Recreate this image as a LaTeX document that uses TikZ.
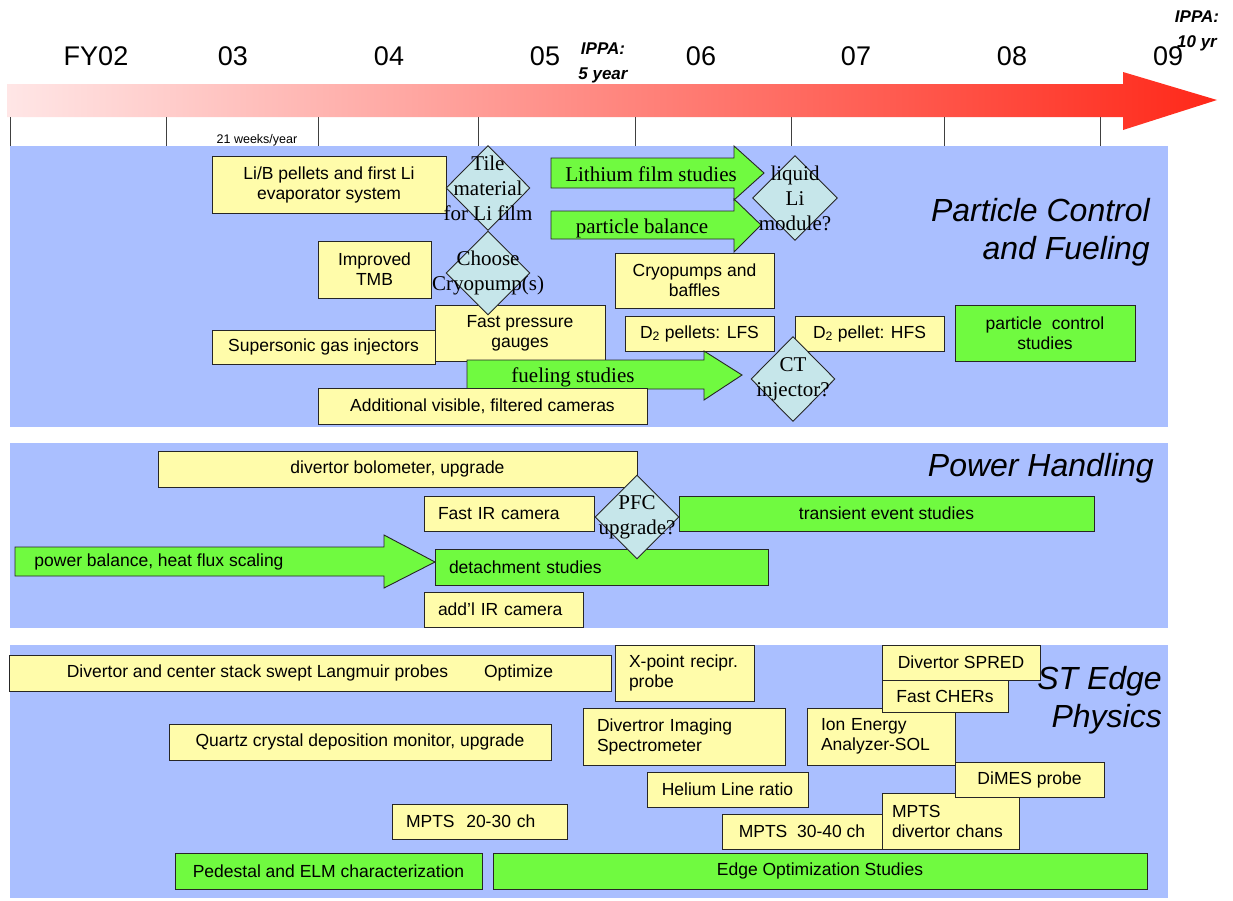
\documentclass[tikz,border=0pt]{standalone}
\usepackage{fontspec}
\setmainfont{Liberation Serif}
\setsansfont{Liberation Sans}
\usetikzlibrary{shapes.geometric}

\definecolor{secblue}{RGB}{170,191,255}
\definecolor{boxyellow}{RGB}{255,252,170}
\definecolor{boxgreen}{RGB}{112,250,64}
\definecolor{diacyan}{RGB}{198,230,234}
\definecolor{arrpale}{RGB}{255,230,230}
\definecolor{arrmid}{RGB}{255,170,168}
\definecolor{arrred}{RGB}{255,40,25}

\begin{document}
\begin{tikzpicture}[x=1pt, y=-1pt,
    sect/.style={fill=secblue},
    ybox/.style={draw=black!85, fill=boxyellow, line width=0.9pt, inner xsep=3pt, inner ysep=1pt,
        align=center, font=\sffamily\fontsize{17.5}{20}\selectfont},
    gbox/.style={ybox, fill=boxgreen},
    lbox/.style={align=left, inner xsep=14pt},
    dia/.style={diamond, draw=black!85, fill=diacyan, line width=0.9pt, inner sep=0pt},
    dtxt/.style={align=center, font=\rmfamily\fontsize{21}{25}\selectfont},
    garr/.style={draw=black!85, fill=boxgreen, line width=0.9pt},
    atxt/.style={font=\rmfamily\fontsize{21}{25}\selectfont},
    stxt/.style={font=\sffamily\fontsize{17.5}{20}\selectfont},
    year/.style={font=\sffamily\fontsize{27}{30}\selectfont},
    ippa/.style={align=center, font=\sffamily\bfseries\itshape\fontsize{17}{25}\selectfont},
    ttl/.style={anchor=east, align=right, inner sep=0pt, font=\sffamily\itshape\fontsize{32}{38}\selectfont}]
\useasboundingbox (0,0) rectangle (1233,900);

% time line
\shade[left color=arrpale, middle color=arrmid, right color=arrred]
  (7,84) -- (1123,84) -- (1123,72) -- (1217,100) -- (1123,130) -- (1123,117) -- (7,117) -- cycle;
\foreach \x in {10,166,318,478,635,791,944,1100}
  \draw[black!75, line width=0.8pt] (\x,117) -- (\x,148);
\node[year] (fy02) at (96,56)   {FY02};
\node[year] (fy03) at (233,56)  {03};
\node[year] (fy04) at (389,56)  {04};
\node[year] (fy05) at (545,56)  {05};
\node[year] (fy06) at (701,56)  {06};
\node[year] (fy07) at (856,56)  {07};
\node[year] (fy08) at (1012,56) {08};
\node[year] (fy09) at (1168,56) {09};
\node[ippa] (ippa5)  at (603,63)  {IPPA:\\5 year};
\node[ippa] (ippa10) at (1197,31) {IPPA:\\10 yr};
\node[font=\sffamily\fontsize{12.5}{14}\selectfont] (wks) at (257,140) {21 weeks/year};

% sections
\fill[sect] (10,146) rectangle (1168,427);
\fill[sect] (10,443) rectangle (1168,628);
\fill[sect] (10,645) rectangle (1168,898);

% particle control and fueling
\node[ybox, minimum width=234, minimum height=57] (lib) at (329,184.5) {Li/B pellets and first Li\\evaporator system};
\node[ybox, minimum width=113, minimum height=57] (tmb) at (374.5,269.5) {Improved\\TMB};
\node[ybox, minimum width=223, minimum height=34] (sgi) at (323.5,347) {Supersonic gas injectors};
\node[ybox, minimum width=170, minimum height=56] (fpg) at (520,333) {Fast pressure\\gauges};
\node[ybox, minimum width=159, minimum height=55] (cry) at (694.5,280.5) {Cryopumps and\\baffles};
\node[ybox, minimum width=149, minimum height=35] (lfs) at (699.5,333.5) {D\textsubscript{2} pellets: LFS};
\node[ybox, minimum width=149, minimum height=35] (hfs) at (869.5,333.5) {D\textsubscript{2} pellet: HFS};
\node[gbox, minimum width=180, minimum height=56] (pcs) at (1045,333) {particle\ \ control\\studies};
\draw[garr] (551,158) -- (734,158) -- (734,146) -- (764,173) -- (734,200) -- (734,188) -- (551,188) -- cycle;
\node[atxt] (lith) at (651,174) {Lithium film studies};
\draw[garr] (551,211) -- (734,211) -- (734,199) -- (761,225) -- (734,252) -- (734,239) -- (551,239) -- cycle;
\node[atxt] (pbal) at (642,228) {particle balance};
\draw[garr] (467,360) -- (704,360) -- (704,351) -- (742,375) -- (704,400) -- (704,389) -- (467,389) -- cycle;
\node[atxt] (fuel) at (573,377) {fueling studies};
\node[ybox, minimum width=329, minimum height=36] (cam) at (482.5,406) {Additional visible, filtered cameras};
\node[dia, minimum width=84, minimum height=85] (tile) at (488,188) {};
\node[dia, minimum width=84, minimum height=84] (chs)  at (488,273) {};
\node[dia, minimum width=85, minimum height=85] (liq)  at (795,198) {};
\node[dia, minimum width=84, minimum height=85] (cti)  at (793,379) {};
\node[dtxt] (tilet) at (tile) {Tile\\material\\for Li film};
\node[dtxt] (chst)  at (chs)  {Choose\\Cryopump(s)};
\node[dtxt] (liqt)  at (liq)  {liquid\\Li\\module?};
\node[dtxt] (ctit)  at (cti)  {CT\\injector?};
\node[ttl] (pcf) at (1150,232) {Particle Control\\and Fueling};

% power handling
\node[ybox, minimum width=479, minimum height=36] (bolo) at (397.5,469) {divertor bolometer, upgrade};
\node[ybox, lbox, text width=142, minimum height=35] (fir) at (509,513.5) {Fast IR camera};
\node[gbox, minimum width=415, minimum height=35] (trans) at (886.5,513.5) {transient event studies};
\draw[garr] (15,547) -- (384,547) -- (384,535) -- (435,562) -- (384,588) -- (384,576) -- (15,576) -- cycle;
\node[stxt] (pwr) at (159,562) {power balance, heat flux scaling};
\node[gbox, lbox, text width=305, minimum height=36] (det) at (601.5,567) {detachment studies};
\node[ybox, lbox, text width=131, minimum height=35] (addl) at (503.5,609.5) {add'l IR camera};
\node[dia, minimum width=84, minimum height=84] (pfc) at (637,517) {};
\node[dtxt] (pfct) at (pfc) {PFC\\upgrade?};
\node[ttl] (ph) at (1154,468) {Power Handling};

% ST edge physics
\node[ybox, minimum width=602, minimum height=36] (lang) at (310,673) {Divertor and center stack swept Langmuir probes\hspace{36pt}Optimize};
\node[ybox, lbox, text width=111, minimum height=56] (xpt) at (684.5,673) {X-point recipr.\\probe};
\node[ybox, minimum width=382, minimum height=36] (qcm) at (360,742) {Quartz crystal deposition monitor, upgrade};
\node[ybox, lbox, text width=174, minimum height=57] (dis) at (684,736.5) {Divertror Imaging\\Spectrometer};
\node[ybox, lbox, text width=120, minimum height=57] (iea) at (881,736.5) {Ion Energy\\Analyzer-SOL};
\node[ybox, minimum width=158, minimum height=35] (spred) at (961,662.5) {Divertor SPRED};
\node[ybox, minimum width=126, minimum height=32] (cher) at (945,696) {Fast CHERs};
\node[ybox, minimum width=161, minimum height=35] (hel) at (727.5,789.5) {Helium Line ratio};
\node[ybox, lbox, text width=147, minimum height=35] (mpa) at (479.5,821.5) {MPTS\ \ 20-30 ch};
\node[ybox, minimum width=160, minimum height=35] (mpb) at (802,831.5) {MPTS\ \ 30-40 ch};
\node[ybox, lbox, inner xsep=10pt, text width=117, minimum height=56] (mpd) at (950.5,821) {MPTS\\divertor chans};
\node[ybox, minimum width=149, minimum height=35] (dimes) at (1029.5,779.5) {DiMES probe};
\node[gbox, minimum width=307, minimum height=36] (ped) at (328.5,871) {Pedestal and ELM characterization};
\node[gbox, minimum width=654, minimum height=36] (eos) at (820,871) {Edge Optimization Studies};
\node[ttl] (ste) at (1162,700) {ST Edge\\Physics};
\end{tikzpicture}
\end{document}
